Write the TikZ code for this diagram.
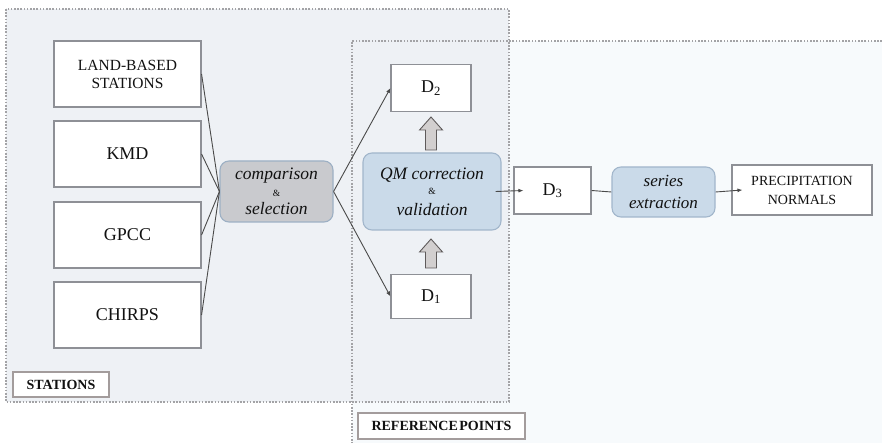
\documentclass[tikz,border=0pt]{standalone}
\usepackage{fontspec}
\setmainfont{Liberation Serif}
\usetikzlibrary{arrows.meta}
\definecolor{stfill}{HTML}{EEF1F5}
\definecolor{reffill}{HTML}{F7FAFC}
\definecolor{regborder}{HTML}{A3A3A6}
\definecolor{boxborder}{HTML}{8E9096}
\definecolor{compfill}{HTML}{C9CACE}
\definecolor{compborder}{HTML}{9DB0C4}
\definecolor{qmfill}{HTML}{CADAE9}
\definecolor{qmborder}{HTML}{A2B6CB}
\definecolor{txt}{HTML}{111111}
\definecolor{lines}{HTML}{4A4A4A}
\definecolor{barrowfill}{HTML}{D2CFCF}
\definecolor{barrowdraw}{HTML}{5E5A5A}
\definecolor{lblborder}{HTML}{A39C9C}
\newcommand{\ampsmall}{{\fontsize{9.5}{9.5}\selectfont\&}}
\tikzset{
  region/.style={draw=regborder, line width=1.1pt, dash pattern=on 1.6pt off 1.6pt},
  whitebox/.style={draw=boxborder, fill=white, line width=1.1pt, text=txt, align=center, inner sep=1pt},
  srcbox/.style={whitebox, minimum width=147pt, minimum height=66pt, font=\fontsize{18}{18}\selectfont},
  dbox/.style={whitebox, minimum width=80pt, minimum height=47pt, font=\fontsize{18}{18}\selectfont},
  procbox/.style={rounded corners=9pt, line width=1.1pt, align=center, text=txt, inner sep=1pt},
  lbl/.style={draw=lblborder, fill=white, line width=1.3pt, text=txt, font=\fontsize{14}{14}\selectfont\bfseries, inner sep=1pt},
  conn/.style={draw=lines, line width=0.9pt},
  arr/.style={conn, -{Latex[length=5pt,width=4pt]}},
  barrow/.style={fill=barrowfill, draw=barrowdraw, line width=0.9pt, line join=miter}
}
\begin{document}
\begin{tikzpicture}[x=1pt,y=-1pt]
\useasboundingbox (0,0) rectangle (882,443);
% regions
\fill[reffill] (352,41) rectangle (882,443);
\fill[stfill] (6,9) rectangle (509,402);
\draw[region] (6,9) rectangle (509,402);
\draw[region] (882,41) -- (352,41) -- (352,443);
% labels
\node[lbl, minimum width=96pt, minimum height=25pt] (stlbl) at (61,384.5) {STATIONS};
\node[lbl, minimum width=167pt, minimum height=26pt] (reflbl) at (441.5,426) {REFERENCE\hspace{1.5pt}POINTS};
% sources
\node[srcbox, font=\fontsize{15.5}{18}\selectfont] (land) at (127.5,74) {LAND-BASED\\STATIONS};
\node[srcbox] (kmd) at (127.5,154) {KMD};
\node[srcbox] (gpcc) at (127.5,235) {GPCC};
\node[srcbox] (chirps) at (127.5,315) {CHIRPS};
% comparison
\node[procbox, fill=compfill, draw=compborder, minimum width=113pt, minimum height=61pt] (comp) at (276.5,191.5)
  {\fontsize{17.5}{15}\selectfont\itshape comparison\\[5pt]\ampsmall\\[5pt]\fontsize{17.5}{15}\selectfont\itshape selection};
% D boxes
\node[dbox] (d2) at (431,88) {D\textsubscript{2}};
\node[dbox, minimum height=44pt] (d1) at (431,296.5) {D\textsubscript{1}};
\node[procbox, fill=qmfill, draw=qmborder, minimum width=138pt, minimum height=77pt] (qm) at (432,191.5)
  {\fontsize{17.5}{15}\selectfont\itshape QM correction\\[3pt]\ampsmall\\[8pt]\fontsize{17.5}{15}\selectfont\itshape validation};
\node[dbox, minimum width=77pt] (d3) at (552.5,190.5) {D\textsubscript{3}};
\node[procbox, fill=qmfill, draw=qmborder, minimum width=103pt, minimum height=50pt,
  font=\fontsize{17}{22}\selectfont\itshape] (series) at (663.5,192) {series\\extraction};
\node[whitebox, minimum width=140pt, minimum height=50pt, font=\fontsize{14}{19}\selectfont] (prec) at (802,190) {PRECIPITATION\\NORMALS};
% block arrows
\draw[barrow] (431,117) -- (442.5,130) -- (436.5,130) -- (436.5,150) -- (425.5,150) -- (425.5,130) -- (419.5,130) -- cycle;
\draw[barrow] (431,239) -- (442.5,252) -- (436.5,252) -- (436.5,268) -- (425.5,268) -- (425.5,252) -- (419.5,252) -- cycle;
% connectors
\draw[conn] (land.east) -- (comp.west);
\draw[conn] (kmd.east) -- (comp.west);
\draw[conn] (gpcc.east) -- (comp.west);
\draw[conn] (chirps.east) -- (comp.west);
\draw[arr] (comp.east) -- (d2.west);
\draw[arr] (comp.east) -- (d1.west);
\draw[arr] ([xshift=-6pt]qm.east) -- ([xshift=10pt]d3.west);
\draw[conn] (d3.east) -- (series.west);
\draw[arr] (series.east) -- ([xshift=11pt]prec.west);
\end{tikzpicture}
\end{document}
